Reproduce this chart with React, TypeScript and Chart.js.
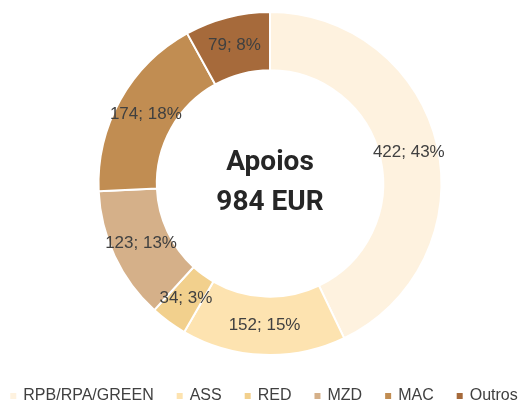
import React, { useEffect, useRef } from "react";
import { Chart, registerables } from "chart.js";

Chart.register(...registerables);

const categories = ["RPB/RPA/GREEN", "ASS", "RED", "MZD", "MAC", "Outros"];
const values = [422, 152, 34, 123, 174, 79];
const colors = ["#FEF2DF", "#FDE3B0", "#F2D08D", "#D5B089", "#C18D52", "#A66A3B"];
const centerTitle = "Apoios";
const centerUnit = "EUR";

const W = 529;
const H = 406;

export default function App() {
  const ref = useRef<HTMLCanvasElement>(null);

  useEffect(() => {
    if (!ref.current) return;
    const total = values.reduce((a, b) => a + b, 0);
    const EXTRA = 60;

    const layoutTweak = {
      id: "layoutTweak",
      beforeLayout(chart: any) {
        const leg = chart.legend;
        if (leg && !leg.__patched) {
          leg.__patched = true;
          const origFit = leg.fit;
          leg.fit = function () {
            const mw = this.maxWidth;
            this.maxWidth = mw + EXTRA;
            origFit.call(this);
            this.maxWidth = mw;
            this.width = Math.min(this.width, mw);
          };
        }
      },
      afterLayout(chart: any) {
        const leg = chart.legend;
        if (leg) {
          leg.left = -EXTRA / 2;
          leg.right = chart.width + EXTRA / 2;
          leg.width = leg.right - leg.left;
          leg.top += 8;
          leg.bottom += 8;
        }
      },
    };

    const dataLabels = {
      id: "dataLabels",
      afterDatasetsDraw(chart: any) {
        const ctx = chart.ctx;
        const meta = chart.getDatasetMeta(0);
        ctx.save();
        ctx.font = '17px "Liberation Sans", Arial, sans-serif';
        ctx.fillStyle = "#404040";
        ctx.textAlign = "center";
        ctx.textBaseline = "middle";
        meta.data.forEach((arc: any, i: number) => {
          const p = arc.getCenterPoint();
          const v = values[i];
          ctx.fillText(`${v}; ${Math.round((v / total) * 100)}%`, p.x, p.y);
        });
        ctx.restore();
      },
    };

    const centerText = {
      id: "centerText",
      afterDatasetsDraw(chart: any) {
        const { ctx, chartArea } = chart;
        const cx = (chartArea.left + chartArea.right) / 2;
        const cy = (chartArea.top + chartArea.bottom) / 2;
        ctx.save();
        ctx.font = 'bold 28px Roboto, "Liberation Sans", sans-serif';
        ctx.fillStyle = "#262626";
        ctx.textAlign = "center";
        ctx.textBaseline = "alphabetic";
        ctx.fillText(centerTitle, cx, cy - 13.5);
        ctx.fillText(`${total} ${centerUnit}`, cx, cy + 26);
        ctx.restore();
      },
    };

    const chart = new Chart(ref.current, {
      type: "doughnut",
      data: {
        labels: categories,
        datasets: [
          {
            data: values,
            backgroundColor: colors,
            borderColor: "#ffffff",
            borderWidth: 2,
            hoverOffset: 0,
            offset: 0,
          },
        ],
      },
      options: {
        responsive: false,
        animation: false,
        cutout: "66%",
        layout: { padding: { left: 11, top: 11, right: 0, bottom: 0 } },
        plugins: {
          tooltip: { enabled: false },
          legend: {
            position: "bottom",
            labels: {
              usePointStyle: true,
              pointStyle: "rect",
              boxWidth: 4,
              boxHeight: 6,
              padding: 24,
              color: "#404040",
              font: { family: '"Liberation Sans", Arial, sans-serif', size: 16 },
              generateLabels: () =>
                categories.map((c, i) => ({
                  text: c,
                  fillStyle: colors[i],
                  strokeStyle: colors[i],
                  lineWidth: 0,
                  pointStyle: "rect",
                  hidden: false,
                  index: i,
                  fontColor: "#404040",
                })),
            },
          },
        },
      } as any,
      plugins: [layoutTweak, dataLabels, centerText],
    });

    return () => chart.destroy();
  }, []);

  return (
    <div style={{ position: "fixed", left: 0, top: 0, width: W, height: H, background: "#ffffff" }}>
      <canvas ref={ref} width={W} height={H} style={{ display: "block" }} />
    </div>
  );
}
